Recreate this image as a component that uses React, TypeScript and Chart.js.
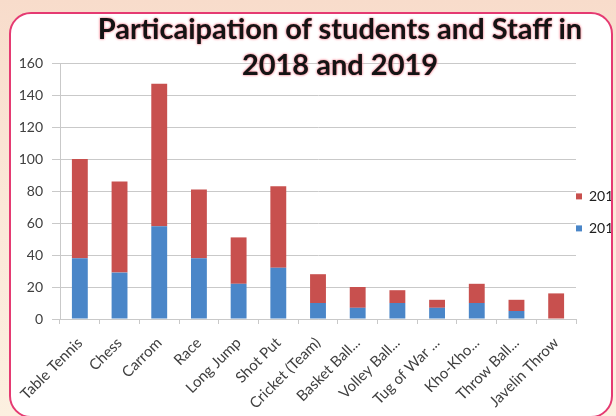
import { useEffect, useRef } from "react";
import { Chart, ChartConfiguration, registerables } from "chart.js";

Chart.register(...registerables);

const sports = [
  "Table Tennis",
  "Chess",
  "Carrom",
  "Race",
  "Long Jump",
  "Shot Put",
  "Cricket (Team)",
  "Basket Ball...",
  "Volley Ball...",
  "Tug of War ...",
  "Kho-Kho...",
  "Throw Ball...",
  "Javelin Throw",
];
const year2018 = [38, 29, 58, 38, 22, 32, 10, 7, 10, 7, 10, 5, 0];
const year2019 = [62, 57, 89, 43, 29, 51, 18, 13, 8, 5, 12, 7, 16];
const titleLines = ["Particaipation of students and Staff in", "2018 and 2019"];

const fontFamily = "Lato, 'Open Sans', sans-serif";
const textColor = "#404040";
const gridColor = "#c9c9c9";

const ParticipationChart = () => {
  const canvasRef = useRef<HTMLCanvasElement | null>(null);
  const chartRef = useRef<Chart | null>(null);

  useEffect(() => {
    if (!canvasRef.current) return;
    const ctx = canvasRef.current.getContext("2d");
    if (!ctx) return;
    if (chartRef.current) chartRef.current.destroy();

    const defaultLabels = Chart.defaults.plugins.legend.labels.generateLabels;

    const config: ChartConfiguration<"bar"> = {
      type: "bar",
      data: {
        labels: sports,
        datasets: [
          {
            label: "2018",
            data: year2018,
            backgroundColor: "#4a86c8",
            categoryPercentage: 0.8,
            barPercentage: 0.5,
          },
          {
            label: "2019",
            data: year2019,
            backgroundColor: "#c8504e",
            categoryPercentage: 0.8,
            barPercentage: 0.5,
          },
        ],
      },
      options: {
        responsive: false,
        animation: false,
        layout: { padding: { top: 49, left: 0, right: 0, bottom: 0 } },
        scales: {
          x: {
            stacked: true,
            grid: {
              drawOnChartArea: false,
              drawTicks: true,
              tickLength: 5,
              color: gridColor,
            },
            border: { color: gridColor },
            ticks: {
              minRotation: 45,
              maxRotation: 45,
              autoSkip: false,
              padding: 10,
              labelOffset: 0,
              color: textColor,
              font: { family: fontFamily, size: 15 },
            },
            afterFit: (scale) => {
              scale.height = 95;
            },
          },
          y: {
            stacked: true,
            min: 0,
            max: 160,
            ticks: {
              stepSize: 20,
              padding: 9,
              color: textColor,
              font: { family: fontFamily, size: 14 },
            },
            grid: { color: gridColor, tickLength: 8 },
            border: { color: gridColor },
            afterFit: (scale) => {
              scale.width = 49;
            },
          },
        },
        plugins: {
          legend: {
            position: "right",
            align: "start",
            reverse: true,
            maxWidth: 35,
            title: { display: true, text: "", padding: 56 },
            labels: {
              boxWidth: 6,
              boxHeight: 6,
              padding: 0,
              color: "#202020",
              font: { family: fontFamily, size: 14, lineHeight: 1.143 },
              generateLabels: (chart) =>
                defaultLabels(chart).map((item) => ({
                  ...item,
                  text: [item.text as string, ""] as unknown as string,
                })),
            },
          },
          tooltip: { enabled: false },
        },
      },
    };

    chartRef.current = new Chart(ctx, config);
    return () => {
      if (chartRef.current) {
        chartRef.current.destroy();
        chartRef.current = null;
      }
    };
  }, []);

  return <canvas ref={canvasRef} width={600} height={400} />;
};

export default function App() {
  return (
    <div
      style={{
        position: "fixed",
        inset: 0,
        background: "linear-gradient(180deg, #f8dccb 0%, #fbe8d8 50%, #fcf0e0 100%)",
        overflow: "hidden",
      }}
    >
      <div
        style={{
          position: "absolute",
          left: 9,
          top: 12,
          width: 600,
          height: 402,
          border: "2px solid #e53a72",
          borderRadius: 22,
          background: "#ffffff",
          overflow: "hidden",
        }}
      >
        <div style={{ position: "absolute", left: 0, top: 0 }}>
          <ParticipationChart />
        </div>
      </div>
      <div
        style={{
          position: "absolute",
          left: 64,
          top: 10,
          width: 552,
          textAlign: "center",
          fontFamily,
          fontWeight: 700,
          fontSize: 29,
          lineHeight: "36px",
          color: "#141414",
          textShadow: "0 0 2px #f07a8c, 0 0 3px #f5a0aa",
          pointerEvents: "none",
        }}
      >
        {titleLines.map((line) => (
          <div key={line}>{line}</div>
        ))}
      </div>
    </div>
  );
}
